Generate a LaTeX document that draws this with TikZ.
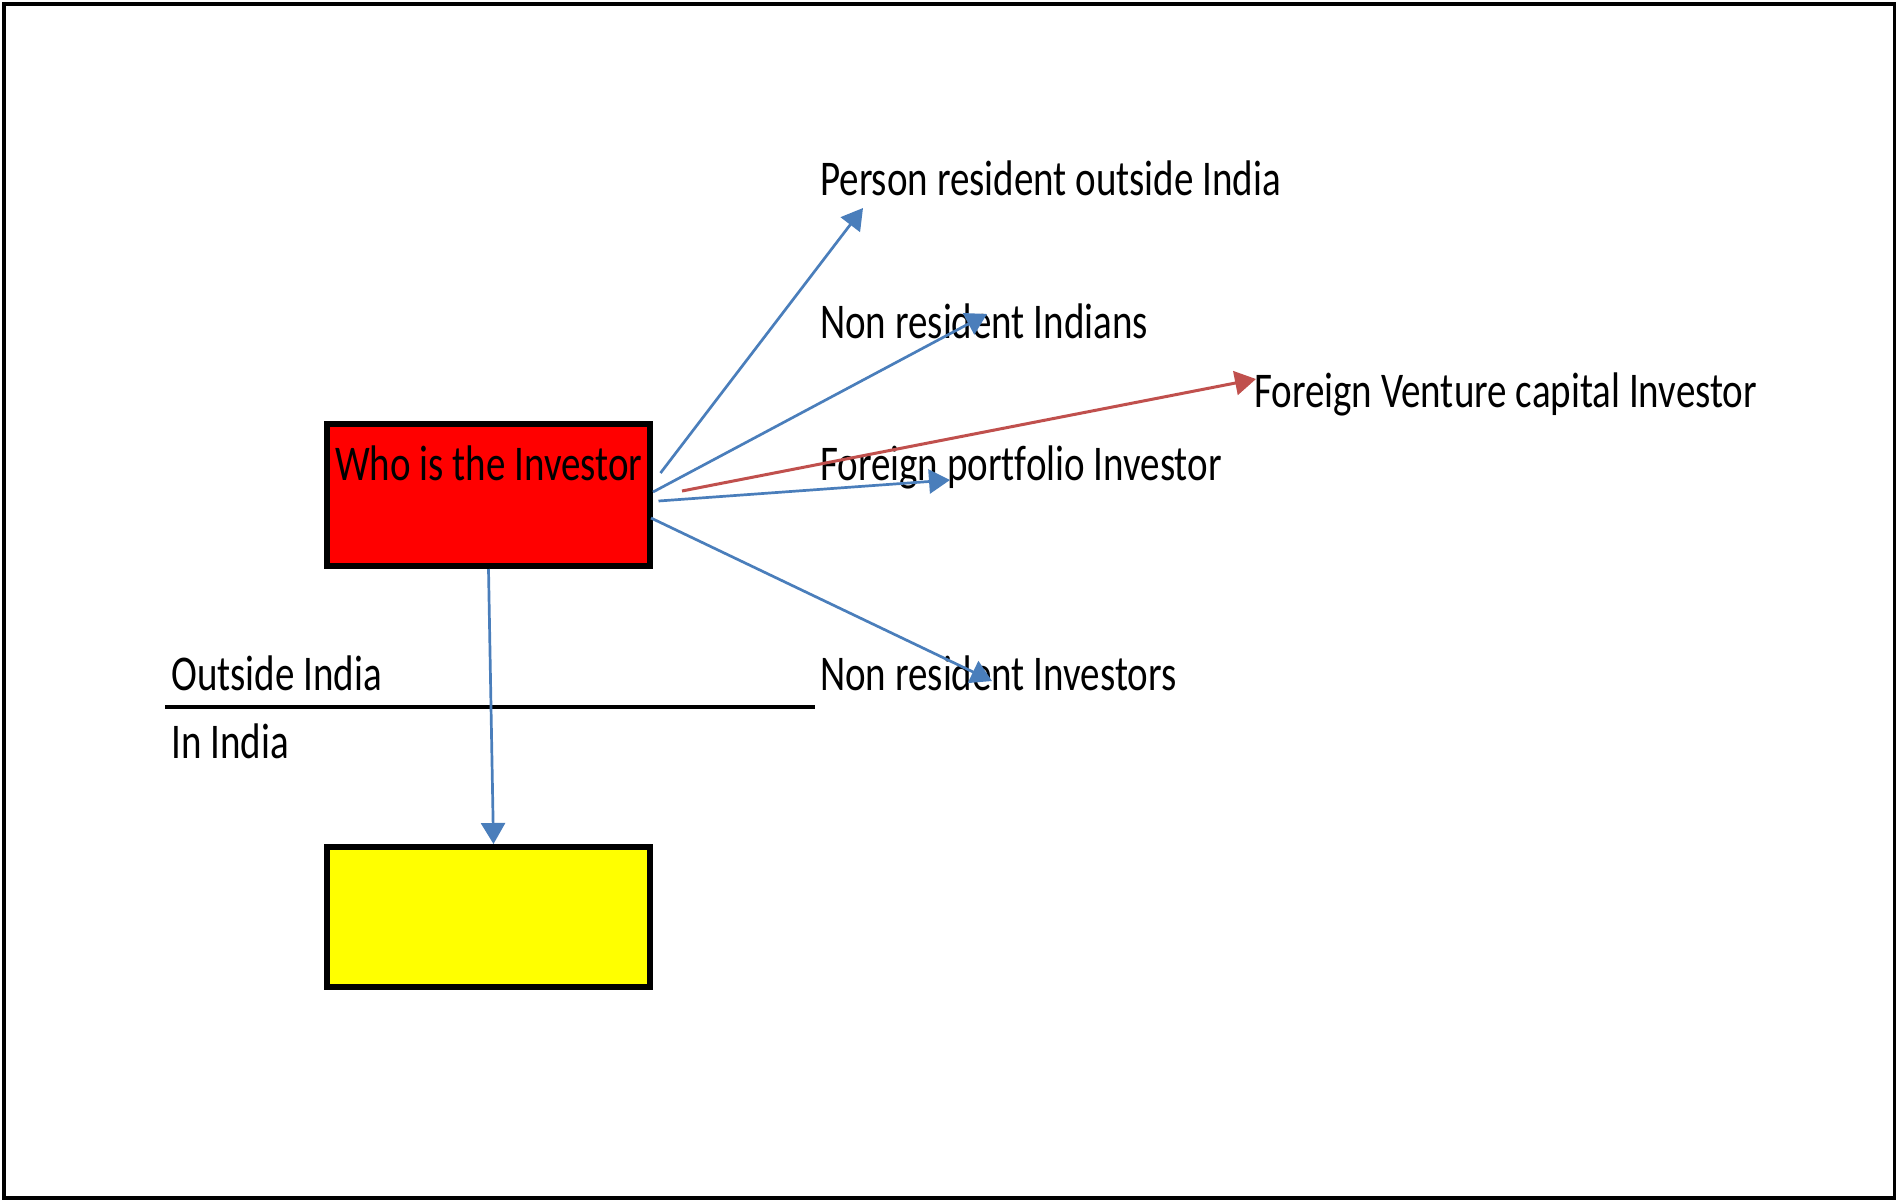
\documentclass[tikz,border=0pt]{standalone}
\usepackage{fontspec}
\usetikzlibrary{arrows.meta,calc}
\newfontfamily\carl[FakeStretch=0.78,Ligatures=NoCommon]{Carlito}
\newcommand\lblfont{\carl\fontsize{50}{60}\selectfont}
\definecolor{arrowblue}{RGB}{74,126,187}
\definecolor{arrowred}{RGB}{192,80,77}
\definecolor{boxred}{RGB}{255,0,0}
\definecolor{boxyellow}{RGB}{255,255,0}
\tikzset{
  lbl/.style={anchor=base west, inner sep=0pt, font=\lblfont, text=black},
  boxnode/.style={draw=black, line width=6pt, minimum width=323pt, inner sep=0pt},
  bluearrow/.style={draw=arrowblue, line width=2.7pt, -{Triangle[length=21pt,width=24pt]}},
  redarrow/.style={draw=arrowred, line width=3pt, -{Triangle[length=21pt,width=24pt]}},
}
\begin{document}
\begin{tikzpicture}[x=1pt, y=-1pt]
  \useasboundingbox (0,0) rectangle (1896,1200);
  % outer frame
  \draw[line width=4pt] (4.3,3.7) rectangle (1894.5,1197.5);

  % boxes
  \node[boxnode, fill=boxred, minimum height=142pt] (investor) at (488.5,495) {};
  \node[boxnode, fill=boxyellow, minimum height=140pt] (inindia) at (488.5,917) {};
  \node[lbl] (who) at (335,480) {Who is the Investor};

  % divider between outside and inside India
  \coordinate (divL) at (165,707);
  \coordinate (divR) at (815,707);
  \draw[line width=4pt] (divL) -- (divR);
  \node[lbl] (outside) at (171,690) {Outside India};
  \node[lbl] (inside) at (171,758) {In India};

  % category labels
  \node[lbl] (pro) at (820,195) {Person resident outside India};
  \node[lbl] (nri) at (820,338) {Non resident Indians};
  \node[lbl] (fvci) at (1254,407) {Foreign Venture capital Investor};
  \node[lbl] (fpi) at (820,480) {Foreign portfolio Investor};
  \node[lbl] (nrinv) at (820,690) {Non resident Investors};

  % arrow ends
  \coordinate (tPro) at (863,208);
  \coordinate (tNri) at (987,314);
  \coordinate (tFvci) at (1256,379);
  \coordinate (tFpi) at (950,480);
  \coordinate (tNrinv) at (992,681);

  % connectors
  \draw[bluearrow] ($(investor.east)+(7.5,-22)$) -- (tPro);
  \draw[bluearrow] ($(investor.east)+(0,-3)$) -- (tNri);
  \draw[redarrow] ($(investor.east)+(29,-4)$) -- (tFvci);
  \draw[bluearrow] ($(investor.east)+(5.5,6)$) -- (tFpi);
  \draw[bluearrow] ($(investor.east)+(-2,23)$) -- (tNrinv);
  \draw[bluearrow] (investor.south) -- ($(inindia.north)+(5,0)$);
\end{tikzpicture}
\end{document}
